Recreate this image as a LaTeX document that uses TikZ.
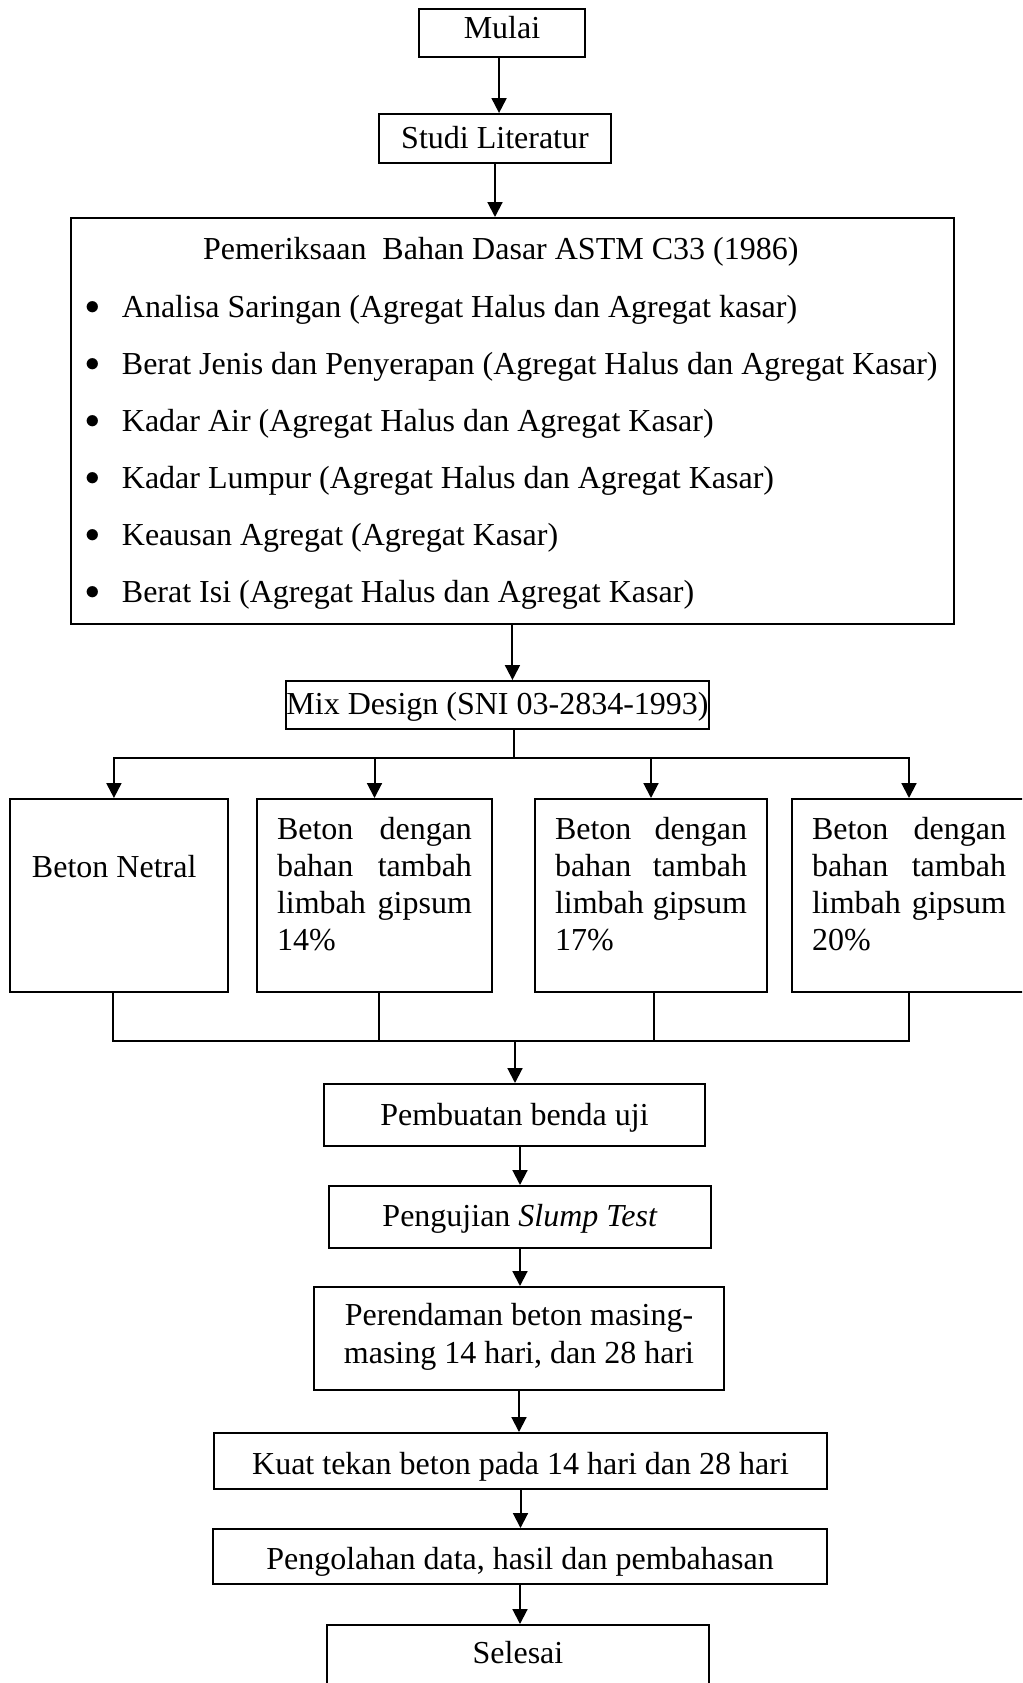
\documentclass[tikz,border=0pt]{standalone}
\usepackage{fontspec}
\setmainfont{Liberation Serif}
\usetikzlibrary{arrows.meta}

\newcommand{\rata}[1]{\makebox[\linewidth][s]{#1}}
\newcommand{\butir}{\makebox[13.5pt][l]{\raisebox{1pt}{\fontsize{11pt}{11pt}\selectfont$\bullet$}}}

\begin{document}
\begin{tikzpicture}[x=0.375pt, y=-0.375pt, line width=0.75pt,
    font=\fontsize{12pt}{13.9pt}\selectfont,
    execute at begin node={\spaceskip=0pt\xspaceskip=0pt},
    box/.style = {draw, anchor=north, inner sep=0pt, align=center},
    cabang/.style = {draw, anchor=north, inner xsep=7.5pt, inner ysep=0pt,
        text height=15pt, text depth=57.4pt},
    panah/.style = {-{Triangle[length=5.6pt, width=5.6pt]}}]
    \useasboundingbox (0,0) rectangle (1022,1683);
    \clip (0,0) rectangle (1022,1683);

    \node[box, minimum width=62.25pt, text height=10.9pt, text depth=7.1pt] (mulai) at (502,8) {Mulai};
    \node[box, minimum width=87pt, text height=12.75pt, text depth=5.6pt] (studi) at (495,113) {Studi Literatur};

    % pemeriksaan bahan dasar
    \node[draw, anchor=north west, inner xsep=5.6pt, inner ysep=0pt, text width=319.9pt,
        text height=15.4pt, text depth=136.9pt, font=\fontsize{12pt}{21.35pt}\selectfont] (bahan) at (70,217)
        {\hspace*{43.9pt}Pemeriksaan\ \ Bahan Dasar ASTM C33 (1986)\\[0.6pt]
         \butir Analisa Saringan (Agregat Halus dan Agregat kasar)\\
         \butir Berat Jenis dan Penyerapan (Agregat Halus dan Agregat Kasar)\\
         \butir Kadar Air (Agregat Halus dan Agregat Kasar)\\
         \butir Kadar Lumpur (Agregat Halus dan Agregat Kasar)\\
         \butir Keausan Agregat (Agregat Kasar)\\
         \butir Berat Isi (Agregat Halus dan Agregat Kasar)};

    \node[box, minimum width=158.6pt, text height=12.4pt, text depth=5.6pt] (mix) at (497.5,680) {Mix Design (SNI 03-2834-1993)};

    % variasi beton
    \node[cabang, text width=65.25pt, inner xsep=8.25pt, text height=29.6pt, text depth=42.75pt] (b1) at (119,798) {Beton Netral};
    \node[cabang, text width=73.1pt] (b2) at (374.5,798)
        {\rata{Beton dengan}\\\rata{bahan tambah}\\\rata{limbah gipsum}\\14\%};
    \node[cabang, text width=72pt] (b3) at (651,798)
        {\rata{Beton dengan}\\\rata{bahan tambah}\\\rata{limbah gipsum}\\17\%};
    \node[cabang, text width=72.75pt] (b4) at (909,798)
        {\rata{Beton dengan}\\\rata{bahan tambah}\\\rata{limbah gipsum}\\20\%};

    \node[box, minimum width=142.9pt, text height=15.4pt, text depth=7.9pt] (pembuatan) at (514.5,1083) {Pembuatan benda uji};
    \node[box, minimum width=143.25pt, text height=15pt, text depth=8.25pt] (slump) at (520,1185) {Pengujian \textit{Slump Test}};
    \node[draw, anchor=north, inner sep=0pt, text width=153.75pt, text height=14.6pt, text depth=24pt] (rendam) at (519,1286)
        {\centering Perendaman beton masing-\\masing 14 hari, dan 28 hari\par};
    \node[box, minimum width=229.9pt, text height=15.4pt, text depth=5.6pt] (kuat) at (520.5,1432) {Kuat tekan beton pada 14 hari dan 28 hari};
    \node[box, minimum width=230.25pt, text height=15pt, text depth=5.6pt] (olah) at (520,1528) {Pengolahan data, hasil dan pembahasan};
    \node[box, minimum width=143.25pt, text height=14.6pt, text depth=15pt] (selesai) at (518,1624) {Selesai};

    \coordinate (bagi) at (514,758);
    \coordinate (gabung) at (515,1041);

    \draw[panah] ([xshift=-1.1pt]mulai.south) -- ([xshift=-1.1pt]mulai.south |- studi.north);
    \draw[panah] (studi.south) -- (studi.south |- bahan.north);
    \draw[panah] (bahan.south) -- (bahan.south |- mix.north);

    \draw (bagi |- mix.south) -- (bagi);
    \draw[panah] (bagi) -| ([xshift=-1.9pt]b1.north);
    \draw[panah] (bagi) -| (b2.north);
    \draw[panah] (bagi) -| (b3.north);
    \draw[panah] (bagi) -| (b4.north);

    \draw ([xshift=-2.25pt]b1.south) |- (b4.south |- gabung) -- (b4.south);
    \draw ([xshift=1.7pt]b2.south) -- ([xshift=1.7pt]b2.south |- gabung);
    \draw ([xshift=1.1pt]b3.south) -- ([xshift=1.1pt]b3.south |- gabung);
    \draw[panah] (gabung) -- (gabung |- pembuatan.north);

    \draw[panah] (slump.north |- pembuatan.south) -- (slump.north);
    \draw[panah] (slump.south) -- (slump.south |- rendam.north);
    \draw[panah] (rendam.south) -- (rendam.south |- kuat.north);
    \draw[panah] (kuat.south) -- (kuat.south |- olah.north);
    \draw[panah] (olah.south) -- (olah.south |- selesai.north);
\end{tikzpicture}
\end{document}
